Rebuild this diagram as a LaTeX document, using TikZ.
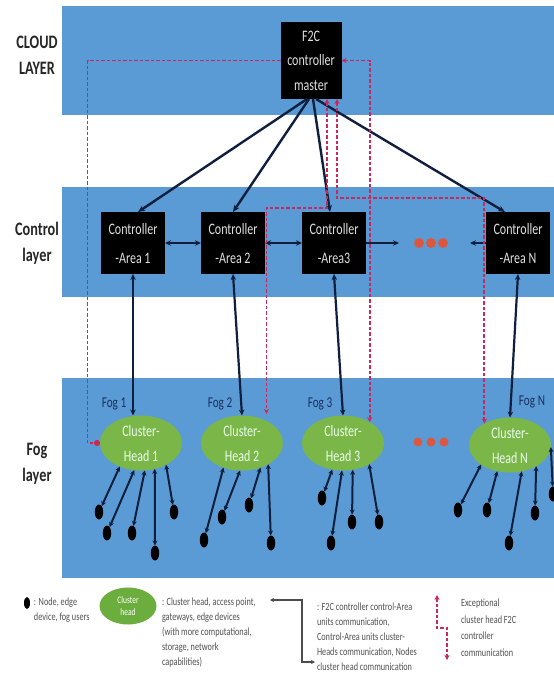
\documentclass[tikz,border=0pt]{standalone}
\usepackage{fontspec}
\setmainfont{Carlito}[FakeStretch=0.75]
\usetikzlibrary{arrows.meta,shapes.geometric}

\definecolor{bandblue}{HTML}{5B9BD5}
\definecolor{chgreen}{HTML}{7AB648}
\definecolor{lggreen}{HTML}{6CAE3E}
\definecolor{linknavy}{HTML}{0F1F3D}
\definecolor{excred}{HTML}{C8285A}
\definecolor{dotred}{HTML}{D9583F}
\definecolor{fogtext}{HTML}{1B2F5C}
\definecolor{legendtext}{HTML}{505050}

\begin{document}
\begin{tikzpicture}[x=1pt,y=-1pt,
  every node/.style={inner sep=0pt,outer sep=0pt},
  band/.style={fill=bandblue},
  layerlabel/.style={align=center,text=black!85,font=\fontsize{19}{26}\selectfont\bfseries},
  ctrlbox/.style={fill=black,text=white!88!black,align=center,
    minimum width=64pt,minimum height=62pt,font=\fontsize{16}{29}\selectfont},
  masterbox/.style={ctrlbox,minimum width=61pt,minimum height=77pt,
    font=\fontsize{16}{24.5}\selectfont},
  chead/.style={ellipse,fill=chgreen,minimum width=82pt,minimum height=55pt,
    text=green!8!white,align=center,font=\fontsize{16}{25}\selectfont},
  edgenode/.style={ellipse,fill=black,minimum width=8.5pt,minimum height=15pt},
  foglabel/.style={text=fogtext,font=\fontsize{15}{15}\selectfont},
  reddot/.style={circle,fill=dotred,minimum size=10pt},
  fogdot/.style={circle,fill=dotred,minimum size=9pt},
  navylink/.style={draw=linknavy,line width=2.4pt},
  downlink/.style={navylink,-{Stealth[length=7pt,width=6pt]}},
  bilink/.style={navylink,line width=2.2pt,{Stealth[length=6pt,width=5.5pt]}-{Stealth[length=6pt,width=5.5pt]}},
  onelink/.style={navylink,line width=2.2pt,-{Stealth[length=6pt,width=5.5pt]}},
  nodelink/.style={navylink,line width=2pt,{Stealth[length=5pt,width=5pt]}-{Stealth[length=5pt,width=5pt]}},
  exc/.style={draw=excred,line width=1.9pt,dash pattern=on 3.5pt off 2pt,
    {Stealth[length=5pt,width=5pt]}-{Stealth[length=5pt,width=5pt]}},
  legendtxt/.style={text=legendtext,align=left,font=\fontsize{11}{15}\selectfont},
]
\useasboundingbox (0,0) rectangle (554,681);

% layer bands
\fill[band] (62,6) rectangle (554,115);
\fill[band] (62,187) rectangle (554,297);
\fill[band] (62,378) rectangle (554,578);

% layer titles
\node[layerlabel] (lcloud) at (37,55) {CLOUD\\LAYER};
\node[layerlabel] (lctrl) at (37,243) {Control\\layer};
\node[layerlabel] (lfog) at (37,464) {Fog\\layer};

% cloud layer
\node[masterbox] (master) at (311,60.5) {F2C\\controller\\master};

% control layer
\node[ctrlbox] (a1) at (133,243) {Controller\\-Area 1};
\node[ctrlbox] (a2) at (233,243) {Controller\\-Area 2};
\node[ctrlbox] (a3) at (334,243) {Controller\\-Area3};
\node[ctrlbox] (aN) at (518,243) {Controller\\-Area N};
\node[reddot] (cd1) at (419,243) {};
\node[reddot] (cd2) at (431,243) {};
\node[reddot] (cd3) at (443,243) {};

% fog layer
\node[chead] (ch1) at (141,443) {Cluster-\\Head 1};
\node[chead] (ch2) at (242,443) {Cluster-\\Head 2};
\node[chead] (ch3) at (343,443) {Cluster-\\Head 3};
\node[chead] (chN) at (510,445) {Cluster-\\Head N};
\node[fogdot] (fd1) at (418,442) {};
\node[fogdot] (fd2) at (431,442) {};
\node[fogdot] (fd3) at (444,442) {};

\node[foglabel] (f1) at (114,404) {Fog 1};
\node[foglabel] (f2) at (220,404) {Fog 2};
\node[foglabel] (f3) at (320,404) {Fog 3};
\node[foglabel] (fN) at (532,402) {Fog N};

% end devices
\node[edgenode] (n11) at (99,512) {};
\node[edgenode] (n12) at (107,533) {};
\node[edgenode] (n13) at (132,533) {};
\node[edgenode] (n14) at (155,553) {};
\node[edgenode] (n15) at (174,512) {};
\node[edgenode] (n21) at (204,540) {};
\node[edgenode] (n22) at (222,517) {};
\node[edgenode] (n23) at (249,505) {};
\node[edgenode] (n24) at (271,543) {};
\node[edgenode] (n31) at (322,498) {};
\node[edgenode] (n32) at (331,543) {};
\node[edgenode] (n33) at (352,522) {};
\node[edgenode] (n34) at (379,522) {};
\node[edgenode] (nN1) at (458,510) {};
\node[edgenode] (nN2) at (487,510) {};
\node[edgenode] (nN3) at (509,543) {};
\node[edgenode] (nN4) at (535,513) {};
\node[edgenode] (nN5) at (553,494) {};

% master to control areas
\draw[downlink] ([xshift=-4pt]master.south) -- ([xshift=5pt]a1.north);
\draw[downlink] ([xshift=-2pt]master.south) -- (a2.north);
\draw[downlink] ([xshift=2pt]master.south) -- ([xshift=-4pt]a3.north);
\draw[downlink] ([xshift=5pt]master.south) -- ([xshift=-13pt]aN.north);

% between control areas
\draw[bilink] (a1.east) -- (a2.west);
\draw[bilink] (a2.east) -- (a3.west);
\draw[onelink,shorten >=15pt] (a3.east) -- (cd1.west);
\draw[onelink,shorten >=22pt] (aN.west) -- (cd3.east);

% control areas to cluster heads
\draw[bilink] (a1.south) -- (a1.south |- ch1.north);
\draw[bilink] (a2.south) -- (ch2.north);
\draw[bilink] (a3.south) -- (ch3.north);
\draw[bilink] (aN.south) -- (chN.north);

% cluster heads to end devices
\draw[nodelink] (ch1.228) -- (n11);
\draw[nodelink] (ch1.256) -- (n12);
\draw[nodelink] (ch1.278) -- (n13);
\draw[nodelink] (ch1.298) -- (n14);
\draw[nodelink] (ch1.319) -- (n15);
\draw[nodelink] (ch2.233) -- (n21);
\draw[nodelink] (ch2.266) -- (n22);
\draw[nodelink] (ch2.307) -- (n23);
\draw[nodelink] (ch2.321) -- (n24);
\draw[nodelink] (ch3.248) -- (n31);
\draw[nodelink] (ch3.268) -- (n32);
\draw[nodelink] (ch3.290) -- (n33);
\draw[nodelink] (ch3.321) -- (n34);
\draw[nodelink] (chN.214) -- (nN1);
\draw[nodelink] (chN.244) -- (nN2);
\draw[nodelink] (chN.294) -- (nN3);
\draw[nodelink] (chN.321) -- (nN4);
\draw[nodelink] (chN.357) -- (nN5);

% exceptional cluster head to master links
\draw[exc,-{Circle[length=6pt]}] (master.west) -- ++(-193,0) |- (ch1.west);
\draw[exc] (master.east) -| (ch3.38);
\draw[exc,shorten >=7pt] ([xshift=16pt]master.south) -- ++(0,109) -| (ch2.42);
\draw[exc] ([xshift=26pt]master.south) -- ++(0,99) -| (chN.140);

% legend
\node[edgenode,minimum width=6pt,minimum height=12pt] (lgnode) at (27,603) {};
\node[legendtxt,anchor=north west] (lgnodetxt) at (34,598) {: Node, edge\\device, fog users};
\node[ellipse,fill=lggreen,minimum width=57pt,minimum height=37pt,text=white,align=center,
  font=\fontsize{10}{12}\selectfont] (lgch) at (128,606) {Cluster\\head};
\node[legendtxt,anchor=north west] (lgchtxt) at (162,598) {: Cluster head, access point,\\gateways, edge devices\\(with more computational,\\storage, network\\capabilities)};

\coordinate (lgA) at (270,600);
\coordinate (lgB) at (315,662);
\draw[draw=black!70,line width=1.4pt,{Stealth[length=4pt,width=4pt]}-{Stealth[length=4pt,width=4pt]}]
  (lgA) -- ++(32,0) |- (lgB);
\node[legendtxt,anchor=north west] (lglinktxt) at (317,603) {: F2C controller control-Area\\units communication,\\Control-Area units cluster-\\Heads communication, Nodes\\cluster head communication};

\coordinate (lgC) at (437,595);
\coordinate (lgD) at (447,660);
\draw[exc,line width=1.5pt] (lgC) -- ++(0,33) -| (lgD);
\node[legendtxt,anchor=north west,font=\fontsize{11}{16.5}\selectfont] (lgexctxt) at (461,599) {Exceptional\\cluster head F2C\\controller\\communication};
\end{tikzpicture}
\end{document}
